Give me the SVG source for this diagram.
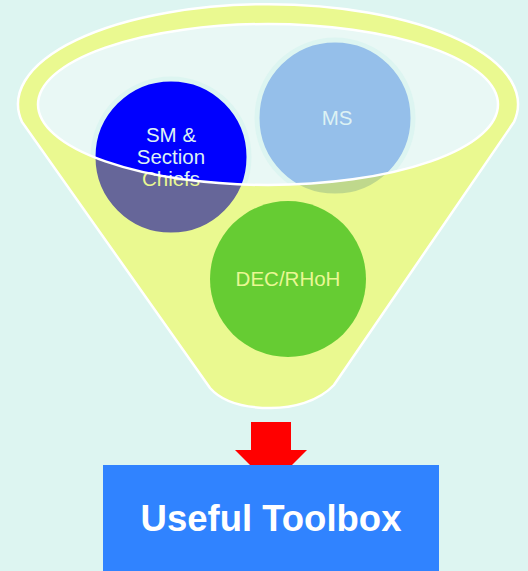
<svg xmlns="http://www.w3.org/2000/svg" width="528" height="571" viewBox="0 0 528 571">
<defs>
<style>
.lbl{font-family:"Liberation Sans",Arial,sans-serif;font-size:20.5px;fill:#DDF2F4;text-anchor:middle}
.halo{stroke:#DDF5F1;stroke-width:5}
.edge{fill:none;stroke:#FFFFFF;stroke-width:2.5}
</style>
<clipPath id="funnelClip">
<path d="M22,122 A250,100 0 1 1 514,122 L334,385 C318,402 292,408 271,408 C250,408 224,404 210,388 Z"/>
</clipPath>
</defs>
<rect x="0" y="0" width="528" height="571" fill="#DDF5F1"/>
<g id="funnel">
<ellipse cx="268" cy="104.5" rx="230" ry="80.5" fill="#E9F8F5"/>
</g>
<g id="node-sm">
<circle class="halo" cx="171" cy="157" r="78" fill="#0000FF"/>
<text class="lbl" x="171" y="142">SM &amp;</text>
<text class="lbl" x="171" y="164">Section</text>
<text class="lbl" x="171" y="186">Chiefs</text>
</g>
<g id="node-ms">
<circle class="halo" cx="335" cy="118" r="78" fill="#95BFEA"/>
<text class="lbl" x="337" y="125">MS</text>
</g>
<g id="node-dec">
<circle cx="288" cy="279" r="78" fill="#00AA55"/>
<text class="lbl" x="288" y="286">DEC/RHoH</text>
</g>
<g id="funnel-overlay">
<path fill="#FFFF00" fill-opacity="0.4" fill-rule="evenodd" d="M22,122 A250,100 0 1 1 514,122 L334,385 C318,402 292,408 271,408 C250,408 224,404 210,388 Z M38,104.5 A230,80.5 0 1 0 498,104.5 A230,80.5 0 1 0 38,104.5 Z"/>
<path class="edge" d="M22,122 A250,100 0 1 1 514,122 L334,385 C318,402 292,408 271,408 C250,408 224,404 210,388 Z"/>
<ellipse class="edge" cx="268" cy="104.5" rx="230" ry="80.5"/>
</g>
<g id="connectors">
<polygon points="251,422 291,422 291,450 307,450 271,486 235,450 251,450" fill="#FF0000"/>
</g>
<g id="node-toolbox">
<rect x="103" y="465" width="336" height="106" fill="#3083FF"/>
<text x="271" y="531" font-family="Liberation Sans, Arial, sans-serif" font-size="36.5" font-weight="bold" fill="#FFFFFF" text-anchor="middle">Useful Toolbox</text>
</g>
</svg>
